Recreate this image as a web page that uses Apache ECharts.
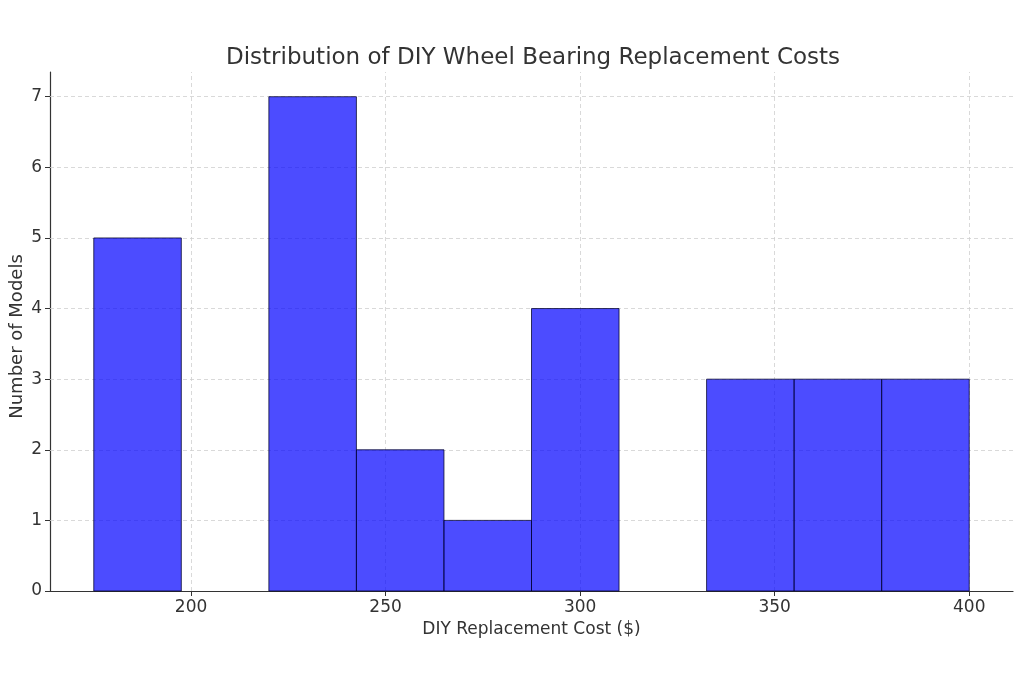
<!DOCTYPE html>
<html>
<head>
<meta charset="utf-8">
<script src="https://cdn.jsdelivr.net/npm/echarts@6/dist/echarts.min.js"></script>
<style>html,body{margin:0;padding:0;background:#fff;}#c{width:1024px;height:683px;}</style>
</head>
<body>
<div id="c"></div>
<script>
const binEdges = [175, 197.5, 220, 242.5, 265, 287.5, 310, 332.5, 355, 377.5, 400];
const counts = [5, 0, 7, 2, 1, 4, 0, 3, 3, 3];
const xTicks = [200, 250, 300, 350, 400];
const yTicks = [0, 1, 2, 3, 4, 5, 6, 7];

const xMin = 163.75, xMax = 411.25, yMax = 7.35;
const font = 'DejaVu Sans';
const textColor = '#333';

const barData = counts.map((c, i) => [binEdges[i], binEdges[i + 1], c]).filter(d => d[2] > 0);

const gridLines = xTicks.map(v => ({ xAxis: v })).concat(yTicks.filter(v => v > 0).map(v => ({ yAxis: v })));

const chart = echarts.init(document.getElementById('c'), null, { renderer: 'canvas' });
chart.setOption({
  backgroundColor: '#fff',
  animation: false,
  title: {
    text: 'Distribution of DIY Wheel Bearing Replacement Costs',
    left: 221, top: 42,
    textStyle: { fontFamily: font, fontSize: 23, fontWeight: 'normal', color: textColor }
  },
  grid: { left: 50, right: 11, top: 72, bottom: 92, containLabel: false, outerBoundsMode: 'none' },
  xAxis: {
    type: 'value', min: xMin, max: xMax,
    name: 'DIY Replacement Cost ($)', nameLocation: 'middle', nameGap: 29,
    nameTextStyle: { fontFamily: font, fontSize: 17, color: textColor },
    axisLine: { show: true, lineStyle: { color: '#333', width: 1.2 } },
    axisTick: { show: true, customValues: xTicks, length: 5, inside: false, lineStyle: { color: '#333' } },
    axisLabel: { customValues: xTicks, margin: 8, fontFamily: font, fontSize: 17, color: textColor },
    splitLine: { show: false }
  },
  yAxis: {
    type: 'value', min: 0, max: yMax,
    name: 'Number of Models', nameLocation: 'middle', nameGap: 24, nameRotate: 90,
    nameMoveOverlap: false,
    nameTextStyle: { fontFamily: font, fontSize: 18, color: textColor, padding: [0, 10, 0, 0] },
    axisLine: { show: true, lineStyle: { color: '#333', width: 1.2 } },
    axisTick: { show: true, customValues: yTicks, length: 5, lineStyle: { color: '#333' } },
    axisLabel: { customValues: yTicks, margin: 8, fontFamily: font, fontSize: 17, color: textColor },
    splitLine: { show: false }
  },
  series: [
    {
      type: 'line', data: [], z: 1, silent: true,
      markLine: {
        silent: true, symbol: 'none', animation: false, z: 1,
        label: { show: false },
        lineStyle: { type: [4, 3], color: '#cfcfcf', width: 0.8 },
        data: gridLines
      }
    },
    {
      type: 'custom', z: 5,
      encode: { x: [0, 1], y: 2 },
      data: barData,
      renderItem: function (params, api) {
        const x0 = api.value(0), x1 = api.value(1), y = api.value(2);
        const p0 = api.coord([x0, y]);
        const p1 = api.coord([x1, 0]);
        return {
          type: 'rect',
          shape: { x: p0[0], y: p0[1], width: p1[0] - p0[0], height: p1[1] - p0[1] },
          style: { fill: 'rgba(0,0,255,0.7)', stroke: 'rgba(0,0,40,0.75)', lineWidth: 1 }
        };
      }
    }
  ]
});
</script>
</body>
</html>
